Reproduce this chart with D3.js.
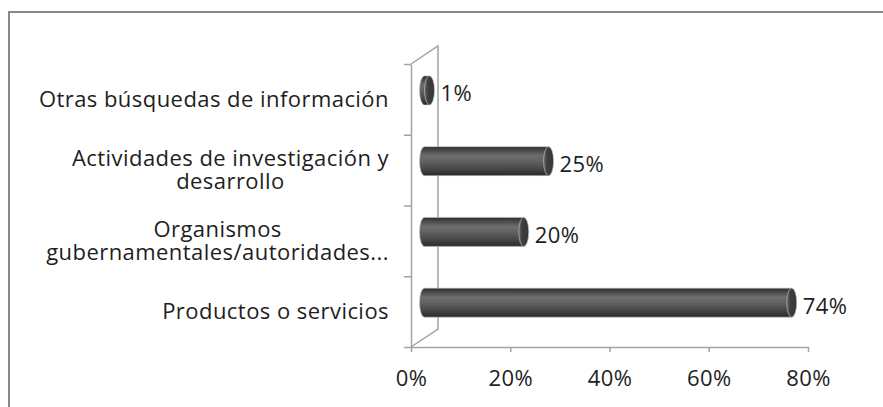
<!DOCTYPE html>
<html>
<head>
<meta charset="utf-8">
<script src="https://cdn.jsdelivr.net/npm/d3@7"></script>
<style>
  html, body { margin: 0; padding: 0; background: #fff; }
  svg { display: block; }
  text { font-family: "Open Sans", sans-serif; font-size: 22px; letter-spacing: 0.45px; fill: #1e1e1e; }
</style>
</head>
<body>
<div id="chart"></div>
<script>
// categories top to bottom, as drawn
var categories = ["Otras búsquedas de información",
                  "Actividades de investigación y desarrollo",
                  "Organismos gubernamentales/autoridades...",
                  "Productos o servicios"];
var labelLines = [["Otras búsquedas de información"],
                  ["Actividades de investigación y", "desarrollo"],
                  ["Organismos", "gubernamentales/autoridades..."],
                  ["Productos o servicios"]];
var values = [1, 25, 20, 74];
var tickValues = [0, 20, 40, 60, 80];

var width = 883,
    height = 407;

var svg = d3.select("#chart").append("svg")
    .attr("width", width)
    .attr("height", height);

// chart area border (runs off the right/bottom edge)
svg.append("rect")
    .attr("x", 9).attr("y", 12)
    .attr("width", 900).attr("height", 420)
    .attr("fill", "none")
    .attr("stroke", "#878787")
    .attr("stroke-width", 2);

var plotLeft = 411, plotRight = 808, plotTop = 64, plotBottom = 347;
var depth = {x: 27, y: -18}; // offset of the back wall

var x = d3.scaleLinear().domain([0, 80]).range([plotLeft, plotRight]);
var y = d3.scaleBand().domain(categories).range([plotTop, plotBottom]);
var yTicks = d3.scaleLinear().domain([0, categories.length]).range([plotBottom, plotTop]);

var defs = svg.append("defs");
var grad = defs.append("linearGradient")
    .attr("id", "cyl")
    .attr("x1", 0).attr("y1", 0).attr("x2", 0).attr("y2", 1);
[[0, "#2c2c2c"], [0.12, "#474747"], [0.32, "#6e6e6e"], [0.5, "#626262"],
 [0.8, "#434343"], [1, "#282828"]].forEach(function (s) {
  grad.append("stop").attr("offset", s[0]).attr("stop-color", s[1]);
});
var capGrad = defs.append("linearGradient")
    .attr("id", "cap")
    .attr("x1", 0).attr("y1", 0).attr("x2", 1).attr("y2", 0);
[[0, "#6a6a6a"], [0.35, "#3e3e3e"], [1, "#363636"]].forEach(function (s) {
  capGrad.append("stop").attr("offset", s[0]).attr("stop-color", s[1]);
});

var lineColor = "#a3a3a3";

// side wall
svg.append("path")
    .attr("fill", "none")
    .attr("stroke", lineColor)
    .attr("stroke-width", 1.5)
    .attr("d", "M" + plotLeft + "," + plotTop +
               "L" + (plotLeft + depth.x) + "," + (plotTop + depth.y) +
               "L" + (plotLeft + depth.x) + "," + (plotBottom + depth.y) +
               "L" + plotLeft + "," + plotBottom);

// category axis
var yAxis = svg.append("g")
    .attr("transform", "translate(" + plotLeft + ",0)")
    .call(d3.axisLeft(yTicks).tickValues(d3.range(categories.length + 1))
        .tickFormat("").tickSize(7).tickSizeOuter(0));
yAxis.selectAll("line, path").attr("stroke", lineColor).attr("stroke-width", 1.5);

// value axis
var xAxis = svg.append("g")
    .attr("transform", "translate(0," + plotBottom + ")")
    .call(d3.axisBottom(x).tickValues(tickValues)
        .tickFormat(function (d) { return d + "%"; })
        .tickSize(5).tickSizeOuter(0).tickPadding(18));
xAxis.select(".domain").attr("stroke", lineColor).attr("stroke-width", 1.5);
xAxis.selectAll("line").attr("stroke", lineColor).attr("stroke-width", 1.5);
xAxis.selectAll("text")
    .style("font-family", "'Open Sans', sans-serif")
    .style("font-size", "22px")
    .attr("fill", "#1e1e1e");

// cylinders
var bw = 29, rx = 5;
var bars = svg.append("g").selectAll("g")
    .data(categories)
    .join("g");

bars.each(function (c, i) {
  var g = d3.select(this);
  var cy = y(c) + y.bandwidth() / 2 + depth.y / 2;
  var x0 = x(0) + depth.x / 2,
      x1 = x(values[i]) + depth.x / 2;
  var ry = bw / 2;
  g.append("path")
      .attr("d", "M" + x1 + "," + (cy - ry) +
                 "L" + x0 + "," + (cy - ry) +
                 "A" + rx + "," + ry + " 0 0 0 " + x0 + "," + (cy + ry) +
                 "L" + x1 + "," + (cy + ry) + "Z")
      .attr("fill", "url(#cyl)")
      .attr("stroke", "#c4c4c4")
      .attr("stroke-width", 0.6);
  g.append("ellipse")
      .attr("cx", x1).attr("cy", cy)
      .attr("rx", rx).attr("ry", ry)
      .attr("fill", "url(#cap)")
      .attr("stroke", "#c4c4c4")
      .attr("stroke-width", 0.6);
  g.append("text")
      .attr("x", x1 + rx + 6)
      .attr("y", cy + 11)
      .text(values[i] + "%");
});

// category labels
var labelRight = 389, lineH = 23;
var labels = svg.append("g").selectAll("text")
    .data(categories)
    .join("text")
    .attr("text-anchor", "middle");

labels.each(function (c, i) {
  var t = d3.select(this);
  var lines = labelLines[i];
  var cy = y(c) + y.bandwidth() / 2;
  lines.forEach(function (l, j) {
    t.append("tspan")
        .attr("y", cy + 7.5 + (j - (lines.length - 1) / 2) * lineH)
        .text(l);
  });
  var w = d3.max(t.selectAll("tspan").nodes(), function (n) { return n.getComputedTextLength(); });
  t.selectAll("tspan").attr("x", labelRight - w / 2);
});
</script>
</body>
</html>
